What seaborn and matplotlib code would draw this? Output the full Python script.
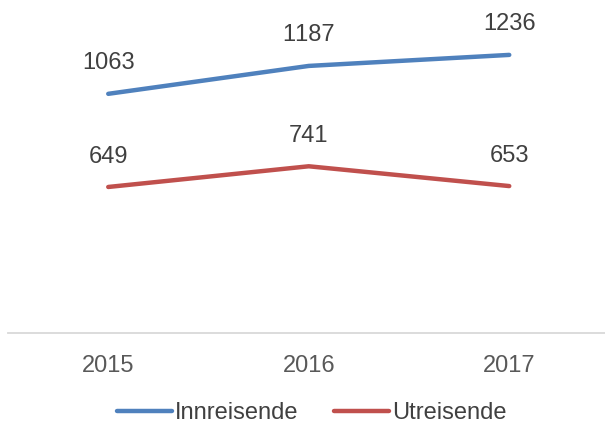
import matplotlib
matplotlib.use("Agg")
import matplotlib.pyplot as plt
import seaborn as sns
import pandas as pd
from matplotlib.lines import Line2D

years = ["2015", "2016", "2017"]
innreisende = [1063, 1187, 1236]
utreisende = [649, 741, 653]
series_names = ["Innreisende", "Utreisende"]
colors = ["#4F81BD", "#C0504D"]

sns.set_theme(style="white")
plt.rcParams['font.family'] = ['Liberation Sans', 'DejaVu Sans']
try:
    plt.rcParams['text.kerning_factor'] = 8
except Exception:
    pass

df = pd.DataFrame({
    "year": years * 2,
    "x": list(range(len(years))) * 2,
    "value": innreisende + utreisende,
    "series": [series_names[0]] * 3 + [series_names[1]] * 3,
})

FS = 17
fig = plt.figure(figsize=(6.05, 4.26), dpi=100)
ax = fig.add_axes([8 / 605, (426 - 333) / 426, 597 / 605, 315 / 426])

sns.lineplot(data=df, x="x", y="value", hue="series", palette=colors,
             linewidth=3.2, ax=ax, legend=False, solid_capstyle="round")

for vals in (innreisende, utreisende):
    for i, v in enumerate(vals):
        ax.annotate(str(v), (i, v), xytext=(0, 14), textcoords="offset points",
                    ha="center", va="bottom", fontsize=FS, color="#404040")

ax.set_xlim(-0.5, -0.5 + 597 / 200.5)
ax.set_ylim(0, 1400)
ax.set_xticks(range(len(years)))
ax.set_xticklabels(years)
ax.set_yticks([])
ax.set_xlabel("")
ax.set_ylabel("")
ax.tick_params(axis="x", length=0, pad=16, labelsize=FS, labelcolor="#595959")
for s in ["left", "right", "top"]:
    ax.spines[s].set_visible(False)
ax.spines["bottom"].set_color("#D9D9D9")
ax.spines["bottom"].set_linewidth(1.3)

handles = [Line2D([0], [0], color=c, lw=3.2, solid_capstyle="round") for c in colors]
fig.legend(handles, series_names, loc="center", bbox_to_anchor=(312 / 605, (426 - 413) / 426),
           ncol=2, frameon=False, fontsize=FS, handlelength=2.3, handletextpad=0.15,
           columnspacing=1.5, labelcolor="#404040", borderpad=0, borderaxespad=0)

fig.savefig("out.png", dpi=100, facecolor="white")
